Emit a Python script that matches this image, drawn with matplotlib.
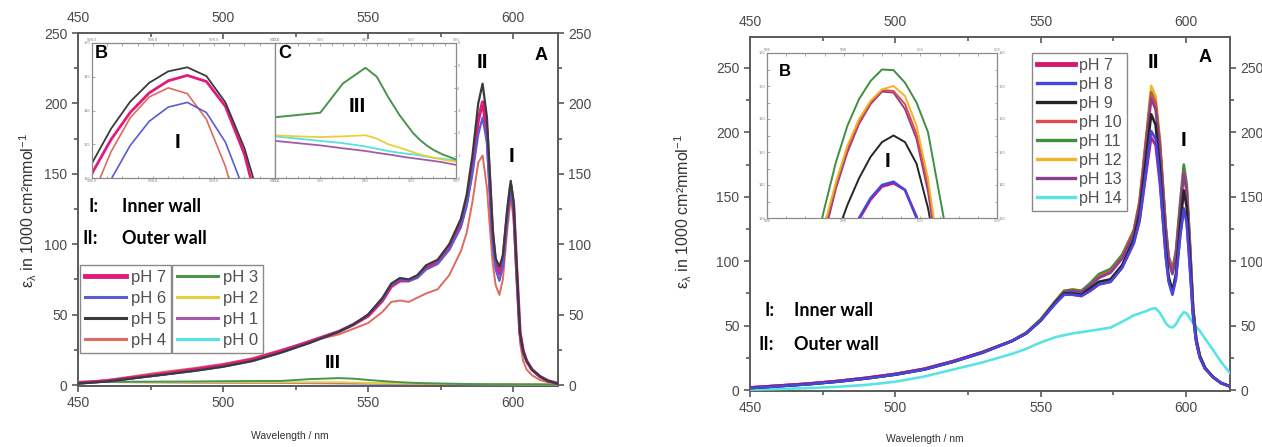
import matplotlib
matplotlib.use('Agg')
import matplotlib.pyplot as plt
from matplotlib.ticker import MultipleLocator
from matplotlib.lines import Line2D

W, H = 1262, 447

# wavelength grid (nm) for the main spectra
wl = [450, 460, 470, 480, 490, 500, 510, 520, 530, 540,
      545, 550, 555, 558, 561, 564, 567, 570, 574, 578,
      582, 584, 586, 588, 589.5, 591, 592, 593, 594, 595.3,
      596.5, 598, 599.2, 600.2, 601.2, 602.4, 603.5, 604.7, 606.5, 609.3,
      612, 615.5]

# ---- left panel, acidic side (pH 7 ... pH 0)
ph7_l = [1.5, 3, 5.5, 8, 11, 14, 18, 24, 31, 38,
         43, 49, 60, 70, 74, 74, 77, 83, 87, 97,
         114, 130, 155, 188, 201, 180, 142, 105, 86, 79,
         88, 120, 142, 127, 84, 37, 24, 17, 11, 6,
         3, 1]
ph6_l = [1, 2.5, 5, 7.5, 10, 13, 17, 23, 30, 38,
         43, 50, 61, 71, 75, 74, 76, 82, 86, 96,
         112, 127, 150, 178, 190, 172, 136, 100, 82, 74,
         84, 118, 140, 125, 82, 36, 24, 17, 11, 6,
         3, 1]
ph5_l = [1, 2.5, 5, 7.5, 10, 13, 17, 23, 30, 38,
         43, 50, 62, 72, 76, 75, 78, 85, 89, 100,
         118, 135, 163, 200, 214, 190, 150, 110, 90, 84,
         92, 125, 145, 130, 86, 37, 24, 17, 11, 6,
         3, 1]
ph4_l = [1.5, 3.5, 6.5, 9.5, 12, 15, 19, 25, 31, 36,
         40, 44, 52, 59, 60, 59, 62, 65, 68, 78,
         95, 108, 130, 158, 163, 140, 112, 86, 71, 64,
         75, 110, 133, 118, 76, 30, 17, 11, 7, 3.5,
         2, 1]
ph3_l = [2.0, 2.2, 2.3, 2.4, 2.5, 2.7, 2.8, 2.9, 4.2, 4.9,
         4.5, 3.6, 2.8, 2.4, 2.0, 1.7, 1.45, 1.25, 1.05, 0.9,
         0.75, 0.7, 0.65, 0.6, 0.6, 0.55, 0.55, 0.5, 0.5, 0.5,
         0.5, 0.5, 0.5, 0.45, 0.45, 0.4, 0.4, 0.4, 0.35, 0.35,
         0.3, 0.3]
ph2_l = [2.3, 2.2, 2.1, 2.0, 1.95, 1.9, 1.85, 1.82, 1.85, 1.9,
         1.75, 1.5, 1.35, 1.25, 1.15, 1.05, 0.98, 0.9, 0.82, 0.75,
         0.7, 0.68, 0.66, 0.64, 0.62, 0.6, 0.6, 0.58, 0.56, 0.55,
         0.55, 0.54, 0.53, 0.52, 0.5, 0.48, 0.46, 0.44, 0.42, 0.4,
         0.38, 0.35]
ph1_l = [2.2, 2.1, 2.0, 1.9, 1.75, 1.65, 1.55, 1.45, 1.32, 1.2,
         1.12, 1.05, 0.97, 0.92, 0.88, 0.84, 0.8, 0.76, 0.7, 0.62,
         0.55, 0.53, 0.52, 0.5, 0.5, 0.48, 0.47, 0.46, 0.45, 0.44,
         0.43, 0.42, 0.41, 0.4, 0.39, 0.38, 0.37, 0.36, 0.34, 0.32,
         0.3, 0.28]
ph0_l = [2.4, 2.3, 2.2, 2.1, 2.0, 1.85, 1.75, 1.65, 1.55, 1.4,
         1.3, 1.2, 1.12, 1.08, 1.05, 1.0, 0.95, 0.9, 0.86, 0.8,
         0.75, 0.73, 0.71, 0.7, 0.69, 0.68, 0.67, 0.66, 0.65, 0.64,
         0.63, 0.62, 0.61, 0.6, 0.59, 0.58, 0.57, 0.56, 0.54, 0.52,
         0.5, 0.48]

left_labels = ['pH 7', 'pH 6', 'pH 5', 'pH 4', 'pH 3', 'pH 2', 'pH 1', 'pH 0']
left_series = [ph7_l, ph6_l, ph5_l, ph4_l, ph3_l, ph2_l, ph1_l, ph0_l]
left_colors = ['#e3197c', '#5b5bd2', '#3a3a3a', '#df6a60',
               '#4b944b', '#e9cf3c', '#a45aa8', '#55e2e2']

# left inset B (peak I zoom)
wl_bl = [598.0, 598.25, 598.5, 598.75, 599.0, 599.25, 599.5, 599.75, 600.0, 600.25, 600.4]
b_ph7 = [130.7, 135.7, 139.7, 142.6, 144.4, 145.2, 144.3, 140.6, 133.5, 122.5, 113]
b_ph6 = [123.4, 129.8, 134.8, 138.4, 140.5, 141.2, 139.7, 135.3, 128, 117.7, 110]
b_ph5 = [132.2, 137.3, 141.3, 144.1, 145.8, 146.4, 145.1, 141.2, 134.4, 124.8, 119]
b_ph4 = [127.1, 133.9, 138.9, 142.0, 143.35, 142.5, 138.7, 131.7, 121.8, 109, 99]

# ---- right panel, basic side (pH 7 ... pH 14)
ph7_r = [2, 3.5, 5, 7, 9.5, 12.5, 16.5, 22.5, 29.5, 38,
         44, 54, 67, 74, 74, 73, 77, 82, 84, 95,
         114, 131, 164, 196, 190, 160, 132, 104, 85, 76,
         87, 121, 141, 131, 99, 58, 37, 25.5, 17, 10,
         5.5, 2.5]
ph8_r = [1.5, 3, 4.5, 6.5, 9, 12, 16, 22, 29, 38,
         44, 54, 67, 74, 74, 73, 77, 82, 84, 95,
         114, 132, 166, 201, 195, 163, 133, 104, 84, 74,
         86, 120, 140, 130, 98, 57, 37, 25, 16.5, 10,
         5.5, 2.5]
ph9_r = [1.5, 3, 4.5, 6.5, 9, 12, 16, 22, 29, 38,
         44, 54, 68, 75, 75, 74, 79, 84, 86, 97,
         117, 137, 175, 214, 206, 172, 140, 110, 88, 77,
         90, 128, 155, 142, 106, 60, 38, 26, 17, 10,
         5.5, 2.5]
ph10_r = [2, 3.5, 5, 7, 9.5, 12.5, 16.5, 22.5, 29.5, 38,
          44, 54, 68, 76, 77, 76, 81, 88, 92, 103,
          123, 145, 188, 230, 222, 190, 158, 125, 102, 92,
          105, 142, 169, 155, 116, 63, 39, 26.5, 17, 10,
          5.5, 2.5]
ph11_r = [1.5, 3, 4.5, 6.5, 9, 12, 16, 22, 29.5, 38,
          44.5, 55, 69, 77, 78, 77, 83, 90, 94, 105,
          124, 146, 189, 231, 223, 192, 160, 127, 104, 94,
          108, 147, 175, 160, 120, 65, 40, 27, 17.5, 10,
          5.5, 2.5]
ph12_r = [1.5, 3, 4.5, 6.5, 9, 12, 16, 22, 29.5, 38,
          44.5, 55, 69, 77, 78, 77, 82, 89, 93, 104,
          124, 147, 192, 236, 228, 194, 160, 126, 102, 92,
          106, 144, 170, 156, 117, 64, 39, 26.5, 17, 10,
          5.5, 2.5]
ph13_r = [2, 3.5, 5, 7, 9.5, 12.5, 16.5, 22.5, 29.5, 38,
          44, 54, 68, 76, 77, 76, 81, 87, 91, 102,
          121, 143, 185, 226, 218, 187, 155, 123, 100, 90,
          103, 141, 168, 154, 115, 63, 39, 26.5, 17, 10,
          5.5, 2.5]
ph14_r = [0.3, 0.8, 1.5, 2.5, 4, 6.5, 10.5, 16, 21.5, 28,
          32, 37, 41, 42.5, 44, 45, 46, 47, 48.5, 53,
          58, 59.5, 61, 63, 63.5, 60, 56, 52, 49.5, 48.5,
          51, 57, 60.5, 59.5, 56, 52, 49, 46, 40, 31,
          22, 12]

right_labels = ['pH 7', 'pH 8', 'pH 9', 'pH 10', 'pH 11', 'pH 12', 'pH 13', 'pH 14']
right_series = [ph7_r, ph8_r, ph9_r, ph10_r, ph11_r, ph12_r, ph13_r, ph14_r]
right_colors = ['#d3186f', '#4646e0', '#262626', '#e04a4a',
                '#3f8f3f', '#f0b526', '#8c3f8c', '#5be3e3']

# right inset B (peak I zoom)
wl_br = [597.2, 597.5, 597.8, 598.1, 598.4, 598.7, 599.0, 599.3, 599.6, 599.9, 600.2, 600.5, 600.8]
r_ph7 = [90, 102, 113, 122, 129.5, 135.5, 139.5, 140.5, 138.5, 130.5, 116, 98, 80]
r_ph8 = [90, 102, 113.5, 122.5, 130, 136, 140, 141, 138.5, 130, 115.5, 97.5, 80]
r_ph9 = [100, 113, 124.5, 134, 142, 148.5, 153, 155, 153, 146.5, 133, 114, 95]
r_ph10 = [112, 127, 140, 151, 159, 165, 168.8, 168.5, 164.5, 155.5, 140, 117, 94]
r_ph11 = [118, 133, 147, 158, 166, 171.5, 175, 174.8, 171, 165, 156, 137, 118]
r_ph12 = [112, 128, 141, 152, 160, 165.5, 169, 170, 167, 158, 142, 118, 95]
r_ph13 = [110, 125, 139, 150, 158.5, 164.5, 168.3, 168, 163, 154, 138, 115, 92]

plt.rcParams['font.family'] = ['Liberation Sans', 'DejaVu Sans']
plt.rcParams['mathtext.fontset'] = 'custom'
plt.rcParams['mathtext.rm'] = 'Liberation Sans'
plt.rcParams['mathtext.it'] = 'Liberation Sans'

GREY = '#5a5a5a'
TXT = '#4a4a4a'


def fbox(x0, y0, x1, y1):
    return [x0 / W, 1 - y1 / H, (x1 - x0) / W, (y1 - y0) / H]


def fx(x):
    return x / W


def fy(y):
    return 1 - y / H


fig = plt.figure(figsize=(W / 100, H / 100), dpi=100)
fig.patch.set_facecolor('white')


def main_axes(rect, xmax, ymin, ymax):
    ax = fig.add_axes(rect)
    ax.set_xlim(450, xmax)
    ax.set_ylim(ymin, ymax)
    for s in ax.spines.values():
        s.set_color(GREY)
        s.set_linewidth(1.4)
    ax.xaxis.set_major_locator(MultipleLocator(50))
    ax.xaxis.set_minor_locator(MultipleLocator(25))
    ax.yaxis.set_major_locator(MultipleLocator(50))
    ax.yaxis.set_minor_locator(MultipleLocator(25))
    ax.tick_params(which='both', direction='out', colors=GREY, labelcolor=TXT,
                   labelsize=10, width=1.2)
    ax.tick_params(which='major', length=4.5, pad=3)
    ax.tick_params(which='minor', length=3)
    top = ax.secondary_xaxis('top')
    top.xaxis.set_major_locator(MultipleLocator(50))
    top.xaxis.set_minor_locator(MultipleLocator(25))
    top.tick_params(which='both', direction='in', colors=GREY, labelcolor=TXT,
                    labelsize=10, width=1.2, pad=6)
    top.tick_params(which='major', length=4.5)
    top.tick_params(which='minor', length=3)
    top.spines['top'].set_visible(False)
    right = ax.secondary_yaxis('right')
    right.yaxis.set_major_locator(MultipleLocator(50))
    right.yaxis.set_minor_locator(MultipleLocator(25))
    right.tick_params(which='both', direction='out', colors=GREY, labelcolor=TXT,
                      labelsize=10, width=1.2, pad=3)
    right.tick_params(which='major', length=4.5)
    right.tick_params(which='minor', length=3)
    right.spines['right'].set_visible(False)
    return ax


def inset_axes(rect):
    a = fig.add_axes(rect)
    a.set_facecolor('white')
    for s in a.spines.values():
        s.set_color('#8a8a8a')
        s.set_linewidth(0.9)
    a.tick_params(which='both', direction='in', labelsize=3, colors='#888888',
                  length=1.8, width=0.5, pad=1)
    return a


# ================= left panel =================
axL = main_axes(fbox(78, 33, 558, 386), 615.5, -0.7, 250)
draw_order = [7, 6, 5, 4, 3, 0, 1, 2]
lw_l = [2.4, 1.6, 1.6, 1.4, 1.4, 1.4, 1.4, 1.6]
for z, i in enumerate(draw_order):
    axL.plot(wl, left_series[i], color=left_colors[i], lw=lw_l[i], zorder=3 + z)

# legends (two boxed columns)
hl = [Line2D([], [], color=c, lw=(3.5 if k == 0 else 2.2)) for k, c in enumerate(left_colors)]
leg_kw = dict(loc='upper left', bbox_transform=fig.transFigure, fontsize=12,
              handlelength=2.45, handletextpad=0.3, labelspacing=0.36, borderpad=0.3,
              borderaxespad=0, fancybox=False, framealpha=1, edgecolor='#8a8a8a')
leg1 = axL.legend(hl[:4], left_labels[:4], bbox_to_anchor=(fx(80), fy(265)), **leg_kw)
leg1.get_frame().set_linewidth(1.0)
for t in leg1.get_texts():
    t.set_color('#505050')
axL.add_artist(leg1)
leg2 = axL.legend(hl[4:], left_labels[4:], bbox_to_anchor=(fx(172), fy(265)), **leg_kw)
leg2.get_frame().set_linewidth(1.0)
for t in leg2.get_texts():
    t.set_color('#505050')

# inset B (left)
bL = inset_axes(fbox(92, 43, 275, 178))
for vals, c, lw in [(b_ph4, left_colors[3], 1.2), (b_ph6, left_colors[1], 1.2),
                    (b_ph7, left_colors[0], 2.0), (b_ph5, left_colors[2], 1.3)]:
    bL.plot(wl_bl, vals, color=c, lw=lw)
bL.set_xlim(598.0, 600.4)
bL.set_ylim(130, 150)
bL.set_xticks([598.0, 598.8, 599.6, 600.4])
bL.set_yticks([130, 135, 140, 145, 150])
bL.xaxis.set_minor_locator(MultipleLocator(0.2))
bL.tick_params(top=True, labeltop=True, bottom=True, labelbottom=True, which='both')

# inset C (left)
cL = inset_axes(fbox(275, 43, 456, 178))
for i, lw in [(6, 1.3), (7, 1.3), (5, 1.3), (4, 1.4)]:
    cL.plot(wl, left_series[i], color=left_colors[i], lw=lw)
cL.set_xlim(500, 580)
cL.set_ylim(0, 6)
cL.xaxis.set_major_locator(MultipleLocator(20))
cL.xaxis.set_minor_locator(MultipleLocator(5))
cL.yaxis.set_major_locator(MultipleLocator(1))
cL.yaxis.tick_right()
cL.tick_params(top=True, labeltop=True, bottom=True, labelbottom=True, which='both')

# annotations left
fig.text(fx(101), fy(53), 'B', fontsize=13, fontweight='bold', ha='center', va='center')
fig.text(fx(285), fy(53), 'C', fontsize=13, fontweight='bold', ha='center', va='center')
fig.text(fx(178), fy(143), 'I', fontsize=15, fontweight='bold', ha='center', va='center')
fig.text(fx(357), fy(106), 'III', fontsize=15, fontweight='bold', ha='center', va='center')
fig.text(fx(333), fy(364), 'III', fontsize=14, fontweight='bold', ha='center', va='center')
fig.text(fx(482), fy(62), 'II', fontsize=15, fontweight='bold', ha='center', va='center')
fig.text(fx(512), fy(157), 'I', fontsize=15, fontweight='bold', ha='center', va='center')
fig.text(fx(541), fy(55), 'A', fontsize=13, fontweight='bold', ha='center', va='center')

for (x1, x2, y, a, b) in [(89, 122, 207, 'I:', 'Inner wall'), (83, 122, 238, 'II:', 'Outer wall')]:
    fig.text(fx(x1), fy(y), a, fontsize=13, fontweight='bold', family='Lato',
             ha='left', va='center')
    fig.text(fx(x2), fy(y), b, fontsize=13, fontweight='bold', family='Lato',
             ha='left', va='center')

ylab = 'ε$_λ$ in 1000 cm²mmol$^{-1}$'
fig.text(fx(28), fy(211), ylab, rotation=90, fontsize=11.5, color='#333333',
         ha='center', va='center')
fig.text(fx(290), fy(436), 'Wavelength / nm', fontsize=7.5, color='#333333',
         ha='center', va='center')

# ================= right panel =================
axR = main_axes(fbox(750, 37, 1230, 390.7), 615.1, -0.5, 274)
r_order = [7, 5, 4, 3, 6, 0, 2, 1]
for z, i in enumerate(r_order):
    axR.plot(wl, right_series[i], color=right_colors[i], lw=1.9, zorder=3 + z)

hr = [Line2D([], [], color=c, lw=(3.5 if k == 0 else 2.4)) for k, c in enumerate(right_colors)]
legR = axR.legend(hr, right_labels, loc='upper left', bbox_to_anchor=(fx(1032), fy(53)),
                  bbox_transform=fig.transFigure, fontsize=11.5, handlelength=2.4,
                  handletextpad=0.25, labelspacing=0.25, borderpad=0.3, borderaxespad=0,
                  fancybox=False, framealpha=1, edgecolor='#8a8a8a')
legR.get_frame().set_linewidth(1.0)
for t in legR.get_texts():
    t.set_color('#505050')

bR = inset_axes(fbox(767, 53, 997, 218))
for vals, i in [(r_ph13, 6), (r_ph10, 3), (r_ph12, 5), (r_ph11, 4), (r_ph9, 2),
                (r_ph7, 0), (r_ph8, 1)]:
    bR.plot(wl_br, vals, color=right_colors[i], lw=1.4 if i > 1 else 1.8)
bR.set_xlim(596, 602)
bR.set_ylim(130, 180)
bR.xaxis.set_major_locator(MultipleLocator(2))
bR.xaxis.set_minor_locator(MultipleLocator(0.5))
bR.yaxis.set_major_locator(MultipleLocator(10))
bR.yaxis.set_minor_locator(MultipleLocator(5))
bR.tick_params(top=True, labeltop=True, bottom=True, labelbottom=True,
               left=True, labelleft=True, right=True, labelright=True, which='both')

fig.text(fx(785), fy(71), 'B', fontsize=12, fontweight='bold', ha='center', va='center')
fig.text(fx(887), fy(162), 'I', fontsize=15, fontweight='bold', ha='center', va='center')
fig.text(fx(1153), fy(62), 'II', fontsize=15, fontweight='bold', ha='center', va='center')
fig.text(fx(1184), fy(140), 'I', fontsize=15, fontweight='bold', ha='center', va='center')
fig.text(fx(1205), fy(58), 'A', fontsize=13, fontweight='bold', ha='center', va='center')

for (x1, y, a, b) in [(764, 311, 'I:', 'Inner wall'), (758, 344, 'II:', 'Outer wall')]:
    fig.text(fx(x1), fy(y), a, fontsize=13, fontweight='bold', family='Lato',
             ha='left', va='center')
    fig.text(fx(794), fy(y), b, fontsize=13, fontweight='bold', family='Lato',
             ha='left', va='center')

fig.text(fx(683), fy(212), ylab, rotation=90, fontsize=11.5, color='#333333',
         ha='center', va='center')
fig.text(fx(925), fy(439), 'Wavelength / nm', fontsize=7.5, color='#333333',
         ha='center', va='center')

fig.savefig('out.png', dpi=100, facecolor='white')
